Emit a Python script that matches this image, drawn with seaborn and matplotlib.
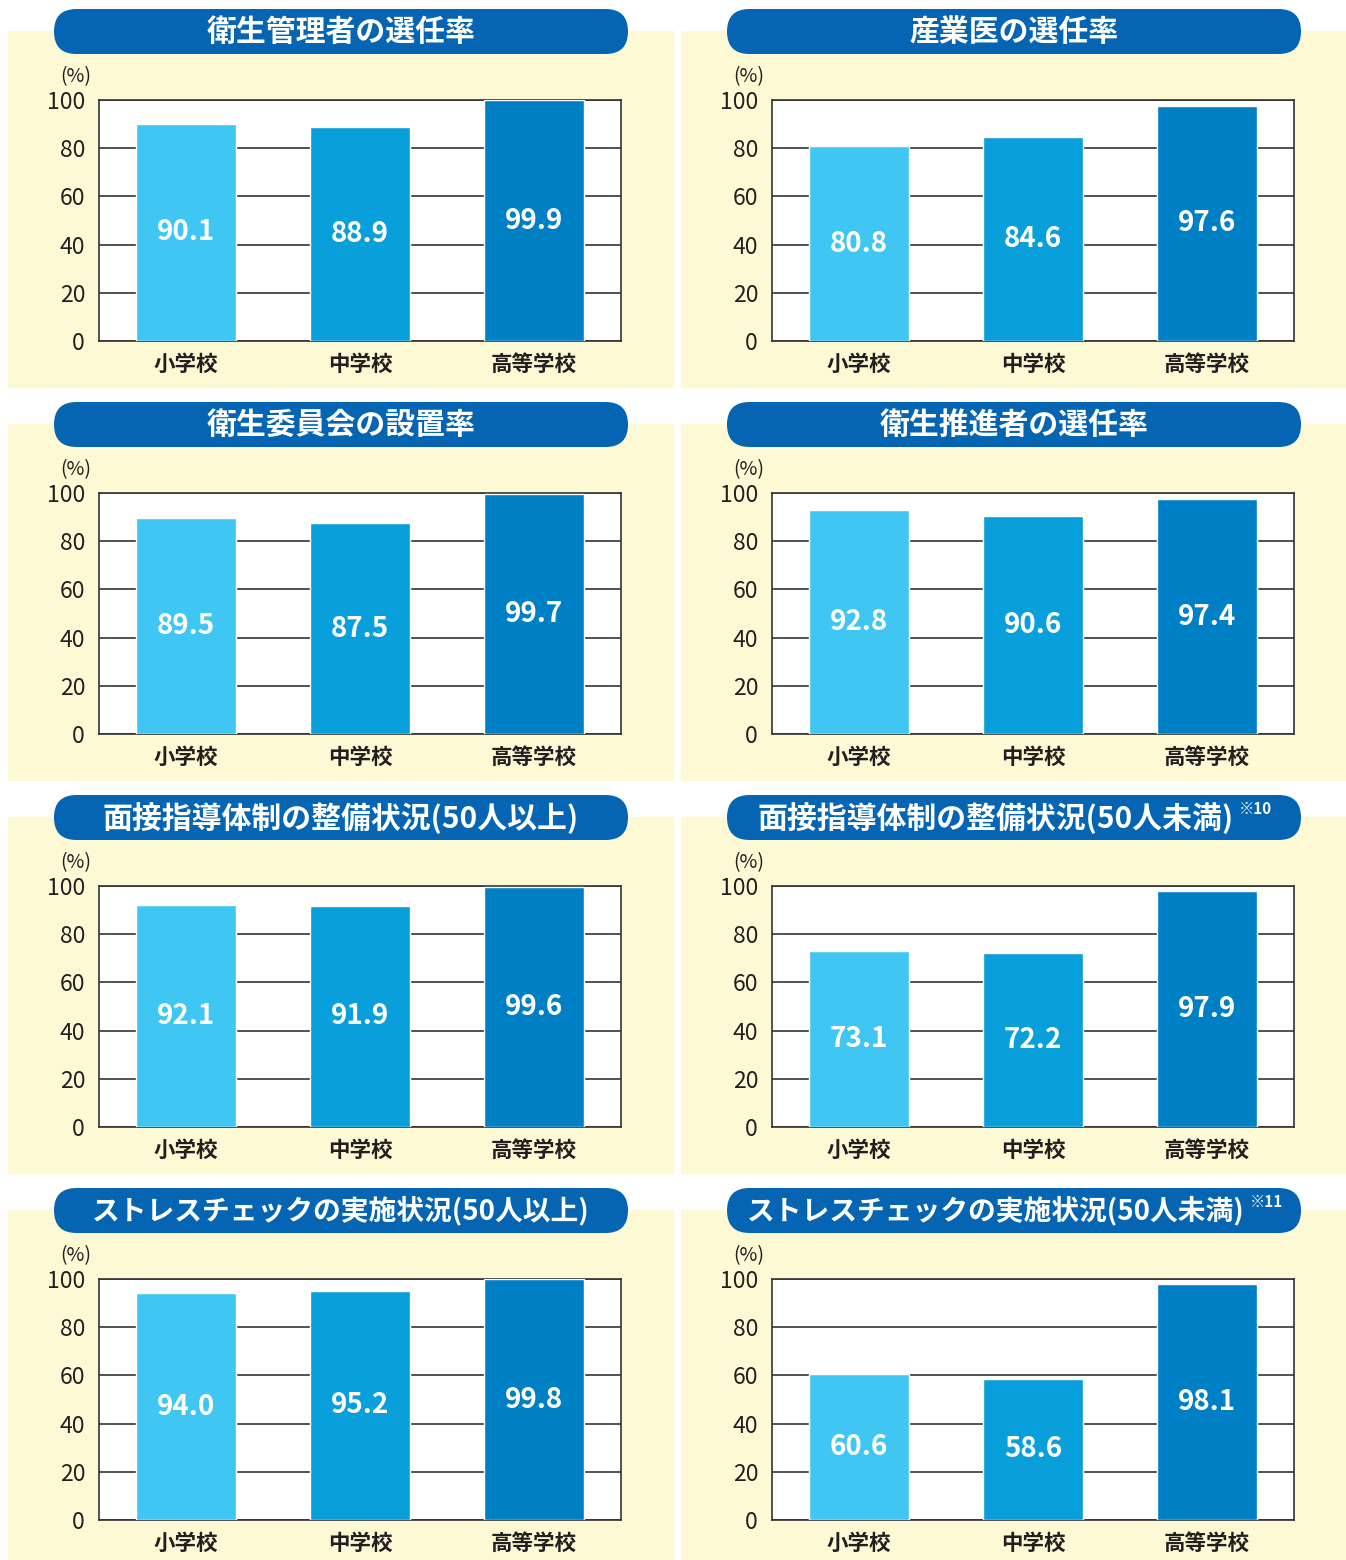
import numpy as np
import pandas as pd
import matplotlib
matplotlib.use("Agg")
import matplotlib.pyplot as plt
import seaborn as sns
from matplotlib.patches import FancyBboxPatch, Rectangle

# データ
schools = ["小学校", "中学校", "高等学校"]
titles = [
    "衛生管理者の選任率",
    "産業医の選任率",
    "衛生委員会の設置率",
    "衛生推進者の選任率",
    "面接指導体制の整備状況(50人以上)",
    "面接指導体制の整備状況(50人未満)",
    "ストレスチェックの実施状況(50人以上)",
    "ストレスチェックの実施状況(50人未満)",
]
notes = ["", "", "", "", "", "※10", "", "※11"]

eisei_kanrisha = [90.1, 88.9, 99.9]
sangyoui = [80.8, 84.6, 97.6]
eisei_iinkai = [89.5, 87.5, 99.7]
eisei_suishin = [92.8, 90.6, 97.4]
mensetsu_ijo = [92.1, 91.9, 99.6]
mensetsu_miman = [73.1, 72.2, 97.9]
stress_ijo = [94.0, 95.2, 99.8]
stress_miman = [60.6, 58.6, 98.1]
all_values = [eisei_kanrisha, sangyoui, eisei_iinkai, eisei_suishin,
              mensetsu_ijo, mensetsu_miman, stress_ijo, stress_miman]

yticks = [0, 20, 40, 60, 80, 100]
bar_colors = ["#40C6F2", "#089FDA", "#0080C4"]

sns.set_style("white")
plt.rcParams["font.family"] = ["Noto Sans CJK JP", "DejaVu Sans"]

W, H = 1346, 1560
fig = plt.figure(figsize=(W / 100, H / 100), dpi=100)
bg = fig.add_axes([0, 0, 1, 1])
bg.set_xlim(0, W)
bg.set_ylim(H, 0)
bg.axis("off")

ink = "#231F20"
title_texts = []

for i, (title, vals) in enumerate(zip(titles, all_values)):
    r, c = divmod(i, 2)
    dx, dy = 673 * c, 393 * r

    # 背景と見出し
    bg.add_patch(Rectangle((8 + dx, 31 + dy), 665, 356, color="#FEF9D5", zorder=0))
    bg.add_patch(FancyBboxPatch((54 + dx, 9 + dy), 574, 45,
                                boxstyle="round,pad=0,rounding_size=22.5",
                                fc="#0565B2", ec="none", zorder=1))
    cx = 341 + dx - (18 if notes[i] else 0)
    fs = 20 if title.startswith("ストレス") else 21.5
    t = bg.text(cx, 32 + dy, title, ha="center", va="center", color="white",
                fontsize=fs, fontweight="bold", zorder=2)
    title_texts.append((t, notes[i], dy))
    bg.text(76 + dx, 77 + dy, "(%)", ha="center", va="center", fontsize=14, color=ink)

    ax = fig.add_axes([(99 + dx) / W, 1 - (341 + dy) / H, 522 / W, 241 / H])
    df = pd.DataFrame({"school": schools, "value": vals})
    sns.barplot(data=df, x="school", y="value", hue="school", palette=bar_colors,
                width=0.57, saturation=1, legend=False, ax=ax, zorder=3)
    ax.set_xlim(-0.5, 2.5)
    ax.set_ylim(0, 100)
    ax.set_yticks(yticks)
    ax.grid(axis="y", color="#333333", lw=1.2)
    ax.set_axisbelow(True)
    for s in ax.spines.values():
        s.set_color("#333333")
        s.set_linewidth(1.2)
    ax.set_xlabel("")
    ax.set_ylabel("")
    ax.tick_params(axis="y", length=0, pad=10, labelsize=16.5, labelcolor=ink)
    ax.tick_params(axis="x", length=0, pad=9, labelsize=15.5, labelcolor=ink)
    for lbl in ax.get_xticklabels():
        lbl.set_fontweight("bold")
    for cont, v in zip(ax.containers, vals):
        ax.bar_label(cont, labels=[f"{v:.1f}"], label_type="center",
                     color="white", fontsize=20, fontweight="bold")

# 注記（※）
fig.canvas.draw()
for t, note, dy in title_texts:
    if note:
        ext = t.get_window_extent()
        bg.text(ext.x1 + 5, 23 + dy, note, ha="left", va="center", color="white",
                fontsize=11, fontweight="bold", zorder=2)

fig.savefig("out.png", dpi=100)
